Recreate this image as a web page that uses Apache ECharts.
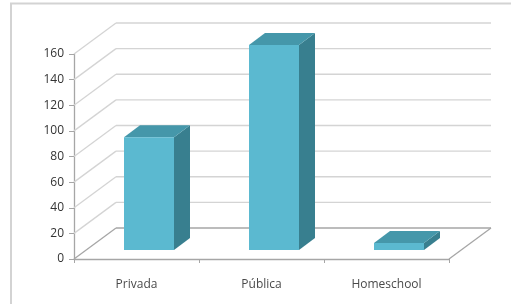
<!DOCTYPE html>
<html>
<head>
    <meta charset="UTF-8">
    <title>Escuela</title>
    <script src="https://cdn.jsdelivr.net/npm/echarts@6/dist/echarts.min.js"></script>
    <style>
        html, body { margin: 0; padding: 0; background: #fff; }
    </style>
</head>
<body>
    <div id="chart" style="width:511px; height:304px;"></div>

    <script>
        // data
        var categories = ['Privada', 'Pública', 'Homeschool'];
        var values = [88, 160, 5.5];
        var yTicks = [0, 20, 40, 60, 80, 100, 120, 140, 160];

        // 3d look (pixels)
        var wallDX = 42, wallDY = -31;   // back wall offset
        var barOffX = 12.5, barOffY = -9; // bar front face offset from front plane
        var barDX = 16, barDY = -12;      // bar depth

        var chart = echarts.init(document.getElementById('chart'), null, {renderer: 'canvas'});

        var gridLineColor = '#d4d4d4';
        var axisColor = '#a6a6a6';

        function wallItem(params, api) {
            var v = api.value(1);
            var y = api.coord([0, v])[1];
            var cs = params.coordSys;
            var x0 = cs.x, x1 = cs.x + cs.width;
            var style = {stroke: v === 0 ? axisColor : gridLineColor, lineWidth: 1.3, fill: null};
            var children = [
                {type: 'line', shape: {x1: x0, y1: y, x2: x0 + wallDX, y2: y + wallDY}, style: style},
                {type: 'line', shape: {x1: x0 + wallDX, y1: y + wallDY, x2: x1 + wallDX, y2: y + wallDY}, style: style}
            ];
            if (v === 0) {
                children.push({type: 'line', shape: {x1: x1, y1: y, x2: x1 + wallDX, y2: y + wallDY}, style: style});
            }
            return {type: 'group', children: children};
        }

        function barItem(params, api) {
            var i = api.value(0);
            var top = api.coord([i, api.value(1)]);
            var base = api.coord([i, 0]);
            var bw = api.size([1, 0])[0] * 0.4;
            var l = top[0] - bw / 2 + barOffX;
            var r = l + bw;
            var t = top[1] + barOffY;
            var b = base[1] + barOffY;
            return {
                type: 'group',
                children: [
                    {type: 'polygon', shape: {points: [[r, t], [r + barDX, t + barDY], [r + barDX, b + barDY], [r, b]]},
                        style: {fill: '#387f8f'}},
                    {type: 'polygon', shape: {points: [[l, t], [l + barDX, t + barDY], [r + barDX, t + barDY], [r, t]]},
                        style: {fill: '#4597aa'}},
                    {type: 'rect', shape: {x: l, y: t, width: bw, height: b - t},
                        style: {fill: '#5bb9d0'}}
                ]
            };
        }

        var option = {
            animation: false,
            backgroundColor: '#fff',
            graphic: [{
                type: 'rect',
                shape: {x: 11, y: 3.5, width: 530, height: 330},
                style: {fill: null, stroke: '#d3d3d3', lineWidth: 2}
            }],
            grid: {left: 74, right: 62, top: 54, bottom: 45},
            xAxis: {
                type: 'category',
                data: categories,
                axisLine: {lineStyle: {color: axisColor, width: 1.3}},
                axisTick: {show: true, length: 4, lineStyle: {color: axisColor}},
                axisLabel: {color: '#4a4a4a', fontFamily: 'Open Sans', fontSize: 12, margin: 20},
                splitLine: {show: false}
            },
            yAxis: {
                type: 'value',
                min: 0,
                max: 160,
                interval: 20,
                axisLine: {show: true, lineStyle: {color: axisColor, width: 1.3}},
                axisTick: {show: true, length: 5, lineStyle: {color: axisColor}},
                axisLabel: {color: '#333', fontFamily: 'Open Sans', fontSize: 12, margin: 10},
                splitLine: {show: false}
            },
            series: [
                {
                    type: 'custom',
                    renderItem: wallItem,
                    data: yTicks.map(function (v) { return [0, v]; }),
                    z: 1,
                    silent: true
                },
                {
                    type: 'custom',
                    renderItem: barItem,
                    data: values.map(function (v, i) { return [i, v]; }),
                    z: 3
                }
            ]
        };

        chart.setOption(option);
    </script>
</body>
</html>
